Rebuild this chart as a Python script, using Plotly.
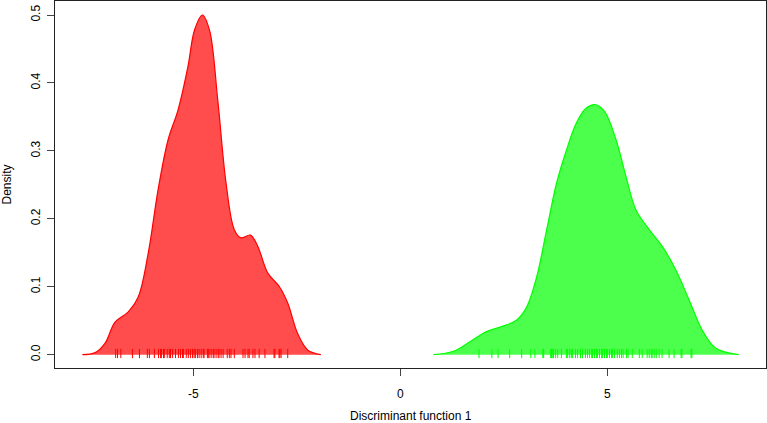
import plotly.graph_objects as go

# Density curve of group 1 (red)
red_x = [-7.68, -7.37, -7.13, -6.89, -6.57, -6.33, -6.09, -5.85, -5.61, -5.37, -5.13, -4.97,
         -4.78, -4.61, -4.41, -4.21, -4.01, -3.85, -3.62, -3.44, -3.20, -2.92, -2.72, -2.48,
         -2.24, -1.92]
red_y = [0.0, 0.003, 0.017, 0.048, 0.063, 0.085, 0.149, 0.243, 0.316, 0.360, 0.424, 0.478,
         0.500, 0.478, 0.375, 0.253, 0.184, 0.172, 0.176, 0.159, 0.120, 0.100, 0.076, 0.031,
         0.007, 0.0]

# Density curve of group 2 (green)
green_x = [0.80, 1.28, 1.68, 2.08, 2.48, 2.81, 3.05, 3.29, 3.53, 3.77, 4.01, 4.25, 4.49, 4.70,
           4.93, 5.21, 5.45, 5.69, 6.01, 6.33, 6.65, 6.97, 7.29, 7.61, 8.17]
green_y = [0.0, 0.005, 0.019, 0.034, 0.042, 0.051, 0.070, 0.114, 0.183, 0.252, 0.301, 0.341,
           0.363, 0.368, 0.358, 0.316, 0.262, 0.213, 0.184, 0.159, 0.125, 0.081, 0.036, 0.010,
           0.0]

# Rug (observed scores)
red_rug = [-6.875, -6.83, -6.75, -6.47, -6.30, -6.11, -6.06, -5.94, -5.84, -5.79, -5.77, -5.72,
           -5.70, -5.63, -5.58, -5.55, -5.50, -5.43, -5.36, -5.31, -5.26, -5.24, -5.17, -5.12,
           -5.07, -5.02, -4.98, -4.95, -4.90, -4.86, -4.81, -4.76, -4.74, -4.66, -4.64, -4.62,
           -4.57, -4.52, -4.50, -4.45, -4.40, -4.38, -4.33, -4.28, -4.18, -4.13, -4.09, -4.01,
           -3.80, -3.75, -3.68, -3.65, -3.56, -3.51, -3.41, -3.27, -3.05, -3.03, -2.93, -2.91,
           -2.88, -2.72]
green_rug = [1.90, 2.21, 2.36, 2.64, 2.93, 3.15, 3.25, 3.44, 3.46, 3.63, 3.65, 3.68, 3.70, 3.75,
             3.80, 3.89, 4.01, 4.04, 4.09, 4.13, 4.16, 4.23, 4.28, 4.35, 4.40, 4.47, 4.52, 4.57,
             4.62, 4.64, 4.69, 4.74, 4.76, 4.81, 4.86, 4.88, 4.93, 4.98, 5.00, 5.05, 5.10, 5.12,
             5.17, 5.24, 5.29, 5.34, 5.38, 5.46, 5.50, 5.60, 5.77, 5.84, 5.96, 6.01, 6.06, 6.08,
             6.13, 6.18, 6.25, 6.32, 6.49, 6.61, 6.78, 6.80, 7.02, 7.04]

x_ticks = [-5, 0, 5]
y_ticks = [0.0, 0.1, 0.2, 0.3, 0.4, 0.5]
y_tick_labels = ["0.0", "0.1", "0.2", "0.3", "0.4", "0.5"]

RUG_LO, RUG_HI = -0.005, 0.0085


def rug_xy(vals):
    xs, ys = [], []
    for v in vals:
        xs += [v, v, None]
        ys += [RUG_LO, RUG_HI, None]
    return xs, ys


fig = go.Figure()
fig.add_trace(go.Scatter(x=red_x, y=red_y, mode="lines", fill="tozeroy",
                         line=dict(color="rgb(255,0,0)", width=1.2, shape="spline", smoothing=1.0),
                         fillcolor="rgba(255,0,0,0.7)", hoverinfo="skip", showlegend=False))
fig.add_trace(go.Scatter(x=green_x, y=green_y, mode="lines", fill="tozeroy",
                         line=dict(color="rgb(0,255,0)", width=1.2, shape="spline", smoothing=1.0),
                         fillcolor="rgba(0,255,0,0.7)", hoverinfo="skip", showlegend=False))
rx, ry = rug_xy(red_rug)
fig.add_trace(go.Scatter(x=rx, y=ry, mode="lines", line=dict(color="rgb(255,0,0)", width=1),
                         hoverinfo="skip", showlegend=False))
gx, gy = rug_xy(green_rug)
fig.add_trace(go.Scatter(x=gx, y=gy, mode="lines", line=dict(color="rgb(0,255,0)", width=1),
                         hoverinfo="skip", showlegend=False))

font_family = "Liberation Sans, Arial, sans-serif"
fig.update_layout(
    width=767, height=423,
    margin=dict(l=55, r=1, t=1, b=55),
    paper_bgcolor="white", plot_bgcolor="white",
    font=dict(family=font_family, size=12, color="black"),
    xaxis=dict(range=[-8.34, 8.83], tickvals=x_ticks, ticktext=[str(t) for t in x_ticks],
               showgrid=False, zeroline=False, showline=True, linecolor="#222", linewidth=1,
               mirror=True, ticks="outside", ticklen=7, tickcolor="#444", tickwidth=1,
               tickfont=dict(size=12), automargin=False, ticklabelstandoff=8),
    yaxis=dict(range=[-0.0196, 0.5206], tickvals=y_ticks, ticktext=y_tick_labels,
               showgrid=False, zeroline=False, showline=True, linecolor="#222", linewidth=1,
               mirror=True, ticks="outside", ticklen=7, tickcolor="#444", tickwidth=1,
               tickangle=-90, tickfont=dict(size=12), automargin=False, ticklabelstandoff=2),
    annotations=[
        dict(text="Discriminant function 1", xref="paper", yref="paper", x=0.5, y=0,
             xanchor="center", yanchor="middle", yshift=-48, showarrow=False,
             font=dict(size=12)),
        dict(text="Density", xref="paper", yref="paper", x=0, y=0.5, textangle=-90,
             xanchor="center", yanchor="middle", xshift=-49, showarrow=False,
             font=dict(size=12)),
    ],
)

fig.write_html("out.html", config={"displayModeBar": False},
               post_script="document.body.style.margin='0';document.body.style.overflow='hidden';")
